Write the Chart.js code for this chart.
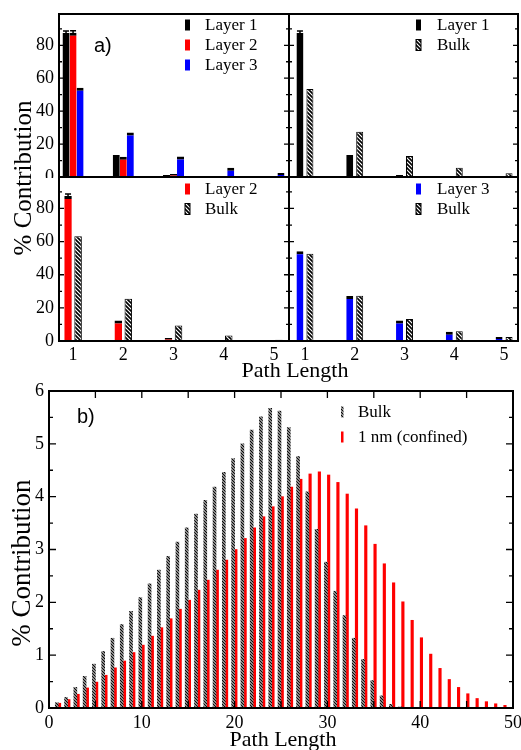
<!DOCTYPE html>
<html>
<head>
<meta charset="utf-8">
<script src="https://cdn.jsdelivr.net/npm/chart.js@4.4.0/dist/chart.umd.min.js"></script>
<style>
  body { margin: 0; background: #fff; }
  #wrap { position: relative; width: 521px; height: 750px; overflow: hidden; }
  canvas { position: absolute; }
  .t { position: absolute; font-family: "Liberation Serif", serif; line-height: 1; white-space: nowrap;
       color: #000; transform: translate(-50%, -50%); }
  .rot { transform: translate(-50%, -50%) rotate(-90deg); }
  .tag { position: absolute; font-family: "Liberation Sans", Arial, sans-serif; font-size: 20px; line-height: 1; }
</style>
</head>
<body>
<div id="wrap">
  <canvas id="tl" width="291" height="178" style="left:0;top:0"></canvas>
  <canvas id="tr" width="234" height="178" style="left:287px;top:0"></canvas>
  <canvas id="bl" width="291" height="190" style="left:0;top:176px"></canvas>
  <canvas id="br" width="234" height="190" style="left:287px;top:176px"></canvas>
  <canvas id="b" width="521" height="376" style="left:0;top:374px"></canvas>
  <div class="t rot" style="left:22px;top:178px;font-size:25px">% Contribution</div>
  <div class="t" style="left:295px;top:370px;font-size:22px">Path Length</div>
  <div class="t rot" style="left:21px;top:563px;font-size:27px">% Contribution</div>
  <div class="t" style="left:283px;top:739px;font-size:22px">Path Length</div>
  <div class="tag" style="left:94px;top:35px">a)</div>
  <div class="tag" style="left:77px;top:406px">b)</div>
</div>
<script>
// panel a) : path length 1..5
const pathA = [1, 2, 3, 4, 5];
const layer1 = [87.5, 13.3, 1.2, 0.15, 0.05];
const layer2 = [87.6, 12.3, 1.8, 0.15, 0.05];
const layer3 = [54.2, 27.1, 12.4, 5.6, 2.4];
const bulkVsLayer1 = [53.5, 27.5, 12.7, 5.6, 2.3];
const bulkVsLayer2 = [63.2, 25.5, 9.3, 3.3, 0.8];
const bulkVsLayer3 = [52.6, 27.3, 13.3, 5.9, 2.4];
const errLayer1 = [1.2, 0, 0, 0, 0];
const errLayer2 = [1.2, 0, 0, 0, 0];
const yTicksA = [0, 20, 40, 60, 80];

// panel b) : path length 1..50
const pathB = [1, 2, 3, 4, 5, 6, 7, 8, 9, 10, 11, 12, 13, 14, 15, 16, 17, 18, 19, 20, 21, 22, 23, 24, 25,
  26, 27, 28, 29, 30, 31, 32, 33, 34, 35, 36, 37, 38, 39, 40, 41, 42, 43, 44, 45, 46, 47, 48, 49, 50];
const bulkB = [0.10, 0.20, 0.39, 0.60, 0.83, 1.07, 1.32, 1.58, 1.83, 2.09, 2.35, 2.61, 2.87, 3.14, 3.41,
  3.67, 3.93, 4.18, 4.46, 4.72, 5.00, 5.26, 5.51, 5.67, 5.62, 5.31, 4.76, 4.09, 3.38, 2.76, 2.21, 1.75,
  1.32, 0.92, 0.52, 0.23, 0.07, 0.02, 0, 0, 0, 0, 0, 0, 0, 0, 0, 0, 0, 0];
const confinedB = [0.09, 0.16, 0.26, 0.38, 0.49, 0.62, 0.76, 0.89, 1.05, 1.19, 1.36, 1.52, 1.69, 1.87, 2.04,
  2.23, 2.42, 2.61, 2.80, 3.00, 3.21, 3.41, 3.62, 3.81, 4.00, 4.18, 4.33, 4.43, 4.47, 4.41, 4.27, 4.05,
  3.77, 3.45, 3.10, 2.73, 2.37, 2.01, 1.66, 1.33, 1.02, 0.75, 0.54, 0.39, 0.27, 0.18, 0.12, 0.08, 0.05, 0.04];
const xTicksB = [0, 10, 20, 30, 40, 50];
const yTicksB = [0, 1, 2, 3, 4, 5, 6];

const serif = 'Liberation Serif';

function hatch(size, lw, bg) {
  const c = document.createElement('canvas');
  c.width = c.height = size;
  const g = c.getContext('2d');
  g.fillStyle = bg;
  g.fillRect(0, 0, size, size);
  g.strokeStyle = '#000';
  g.lineWidth = lw;
  g.beginPath();
  g.moveTo(-1, -1); g.lineTo(size + 1, size + 1);
  g.moveTo(-1, size - 1); g.lineTo(1, size + 1);
  g.moveTo(size - 1, -1); g.lineTo(size + 1, 1);
  g.stroke();
  return g.createPattern(c, 'repeat');
}

// frame + inward ticks on every side
const frame = {
  id: 'frame',
  afterDatasetsDraw(chart, args, o) {
    const { ctx, chartArea: a, scales } = chart;
    ctx.save();
    ctx.strokeStyle = '#000';
    ctx.lineWidth = 1.3;
    ctx.beginPath();
    const marks = (scale, minor, major, len, horiz) => {
      if (!minor) return;
      const n0 = Math.ceil(scale.min / minor - 1e-6), n1 = Math.floor(scale.max / minor + 1e-6);
      for (let n = n0; n <= n1; n++) {
        const v = n * minor;
        const L = Math.abs(v / major - Math.round(v / major)) < 1e-6 ? len[0] : len[1];
        const p = scale.getPixelForValue(v);
        if (horiz) {
          ctx.moveTo(p, a.bottom); ctx.lineTo(p, a.bottom - L);
          ctx.moveTo(p, a.top); ctx.lineTo(p, a.top + L);
        } else {
          ctx.moveTo(a.left, p); ctx.lineTo(a.left + L, p);
          ctx.moveTo(a.right, p); ctx.lineTo(a.right - L, p);
        }
      }
    };
    marks(scales.y, o.yMinor, o.yMajor, o.yLen, false);
    marks(scales.x, o.xMinor, o.xMajor, o.xLen, true);
    ctx.stroke();
    ctx.lineWidth = 2;
    ctx.strokeRect(a.left, a.top, a.right - a.left, a.bottom - a.top);
    ctx.restore();
  }
};

const errBars = {
  id: 'errBars',
  afterDatasetsDraw(chart) {
    const { ctx, scales: { y } } = chart;
    ctx.save();
    ctx.strokeStyle = '#000';
    ctx.lineWidth = 1.5;
    chart.data.datasets.forEach((ds, i) => {
      if (!ds.errors) return;
      chart.getDatasetMeta(i).data.forEach((bar, j) => {
        const e = ds.errors[j];
        if (!e) return;
        const v = ds.data[j].y;
        const y1 = y.getPixelForValue(v + e), y0 = y.getPixelForValue(v - e);
        ctx.beginPath();
        ctx.moveTo(bar.x, y0); ctx.lineTo(bar.x, y1);
        ctx.moveTo(bar.x - 3, y1); ctx.lineTo(bar.x + 3, y1);
        ctx.stroke();
      });
    });
    ctx.restore();
  }
};

const boxLegend = {
  id: 'boxLegend',
  afterDraw(chart, args, o) {
    if (o.x === undefined) return;
    const { ctx, chartArea: a } = chart;
    ctx.save();
    ctx.font = o.font;
    ctx.textBaseline = 'middle';
    chart.data.datasets.forEach((ds, i) => {
      const cy = a.top + o.y + i * o.row;
      ctx.fillStyle = ds.backgroundColor;
      ctx.fillRect(a.left + o.x, cy - o.h / 2, o.w, o.h);
      if (ds.hatched) {
        ctx.strokeStyle = '#000';
        ctx.lineWidth = 1;
        ctx.strokeRect(a.left + o.x, cy - o.h / 2, o.w, o.h);
      }
      ctx.fillStyle = '#000';
      ctx.fillText(ds.label, a.left + o.tx, cy + 1);
    });
    ctx.restore();
  }
};

const pts = (xs, ys) => xs.map((x, i) => ({ x: x, y: ys[i] }));

const hatchA = hatch(4, 1.6, '#fff');
const hatchB = hatch(3, 1.1, '#c4c4c4');

function colored(label, color, vals, errs) {
  return { label: label, data: pts(pathA, vals), backgroundColor: color, errors: errs,
           borderColor: '#000', borderWidth: { top: 3, left: 0, right: 0, bottom: 0 } };
}
function hatched(label, vals) {
  return { label: label, data: pts(pathA, vals), backgroundColor: hatchA, hatched: true,
           borderColor: '#000', borderWidth: 1 };
}

function panelA(id, sets, o) {
  return new Chart(document.getElementById(id), {
    type: 'bar',
    data: { datasets: sets },
    options: {
      responsive: false,
      animation: false,
      layout: { padding: o.pad },
      datasets: { bar: { categoryPercentage: o.cat, barPercentage: o.bar } },
      scales: {
        x: {
          type: 'linear', min: o.xmin, max: o.xmax, offset: false,
          afterBuildTicks: s => { s.ticks = pathA.map(v => ({ value: v })); },
          afterFit: s => { s.height = o.showX ? 25 : 1; s.paddingLeft = 0; s.paddingRight = 0; },
          grid: { display: false, drawTicks: false },
          border: { display: false },
          ticks: { display: o.showX, padding: 3, color: '#000', font: { family: serif, size: 18 } }
        },
        y: {
          min: 0, max: 99,
          afterBuildTicks: s => { s.ticks = yTicksA.map(v => ({ value: v })); },
          afterFit: s => { s.width = o.showY ? 59 : 2; s.paddingTop = 0; s.paddingBottom = 0; },
          grid: { display: false, drawTicks: false },
          border: { display: false },
          ticks: { display: o.showY, padding: 5, color: '#000', font: { family: serif, size: 18 } }
        }
      },
      plugins: {
        legend: { display: false },
        tooltip: { enabled: false },
        frame: { yMajor: 20, yMinor: 10, yLen: [5, 3] },
        boxLegend: Object.assign({ w: 5, h: 11, row: 20, font: '17px "Liberation Serif"' }, o.legend)
      }
    },
    plugins: [frame, errBars, boxLegend]
  });
}

const leftX = { xmin: 0.72, xmax: 5.3 };
const rightX = { xmin: 0.68, xmax: 5.28 };

panelA('tl', [
  colored('Layer 1', '#000', layer1, errLayer1),
  colored('Layer 2', '#ff0000', layer2, errLayer2),
  colored('Layer 3', '#0000ff', layer3)
], Object.assign({ pad: { top: 14, right: 2 }, cat: 0.42, bar: 1, showX: false, showY: true,
  legend: { x: 126, tx: 146, y: 11 } }, leftX));

panelA('tr', [
  colored('Layer 1', '#000', layer1, errLayer1),
  hatched('Bulk', bulkVsLayer1)
], Object.assign({ pad: { top: 14, right: 3 }, cat: 0.4, bar: 0.7, showX: false, showY: false,
  legend: { x: 127, tx: 148, y: 11 } }, rightX));

panelA('bl', [
  colored('Layer 2', '#ff0000', layer2, errLayer2),
  hatched('Bulk', bulkVsLayer2)
], Object.assign({ pad: { top: 1, right: 2 }, cat: 0.4, bar: 0.75, showX: true, showY: true,
  legend: { x: 126, tx: 146, y: 12 } }, leftX));

panelA('br', [
  colored('Layer 3', '#0000ff', layer3),
  hatched('Bulk', bulkVsLayer3)
], Object.assign({ pad: { top: 1, right: 3 }, cat: 0.4, bar: 0.7, showX: true, showY: false,
  legend: { x: 127, tx: 148, y: 12 } }, rightX));

new Chart(document.getElementById('b'), {
  type: 'bar',
  data: {
    datasets: [
      { label: 'Bulk', data: pts(pathB, bulkB), backgroundColor: hatchB, hatched: false,
        barThickness: 3, borderWidth: 0 },
      { label: '1 nm (confined)', data: pts(pathB, confinedB), backgroundColor: '#ff0000',
        barThickness: 2.5, borderWidth: 0 }
    ]
  },
  options: {
    responsive: false,
    animation: false,
    layout: { padding: { top: 17, right: 8 } },
    scales: {
      x: {
        type: 'linear', min: 0, max: 50, offset: false,
        afterBuildTicks: s => { s.ticks = xTicksB.map(v => ({ value: v })); },
        afterFit: s => { s.height = 42; s.paddingLeft = 0; s.paddingRight = 0; },
        grid: { display: false, drawTicks: false },
        border: { display: false },
        ticks: { padding: 4, color: '#000', font: { family: serif, size: 18 } }
      },
      y: {
        min: 0, max: 6,
        afterBuildTicks: s => { s.ticks = yTicksB.map(v => ({ value: v })); },
        afterFit: s => { s.width = 49; s.paddingTop = 0; s.paddingBottom = 0; },
        grid: { display: false, drawTicks: false },
        border: { display: false },
        ticks: { padding: 5, color: '#000', font: { family: serif, size: 18 } }
      }
    },
    plugins: {
      legend: { display: false },
      tooltip: { enabled: false },
      frame: { yMajor: 1, yMinor: 0.5, yLen: [7, 4], xMajor: 10, xMinor: 5, xLen: [7, 7] },
      boxLegend: { x: 292, tx: 309, y: 21, row: 25, w: 2.5, h: 11, font: '17px "Liberation Serif"' }
    }
  },
  plugins: [frame, boxLegend]
});
</script>
</body>
</html>
